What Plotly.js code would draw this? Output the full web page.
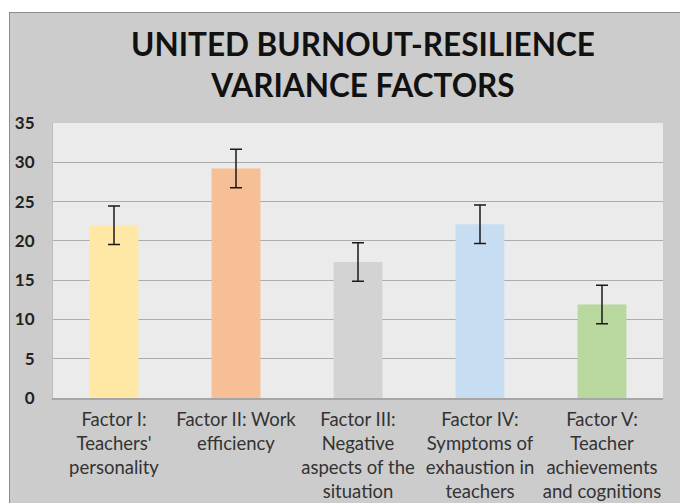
<!DOCTYPE html>
<html>
<head>
<meta charset="utf-8">
<script src="https://cdn.plot.ly/plotly-3.0.1.min.js"></script>
<style>
html, body { margin: 0; padding: 0; background: #ffffff; width: 680px; height: 503px; overflow: hidden; }
#chart { position: absolute; left: 9px; top: 12px; width: 671px; height: 491px; border-left: 1px solid #8c8c8c; border-top: 1px solid #8c8c8c; box-sizing: border-box; }
</style>
</head>
<body>
<div id="chart"></div>
<script>
const titleText = 'UNITED BURNOUT-RESILIENCE<br>VARIANCE FACTORS';
const categories = [
  "Factor I:<br>Teachers'<br>personality",
  "Factor II: Work<br>efficiency",
  "Factor III:<br>Negative<br>aspects of the<br>situation",
  "Factor IV:<br>Symptoms of<br>exhaustion in<br>teachers",
  "Factor V:<br>Teacher<br>achievements<br>and cognitions"
];
const values = [22.0, 29.2, 17.3, 22.1, 11.9];
const errors = [2.45, 2.45, 2.45, 2.45, 2.45];
const barColors = ["#FFE8A6", "#F7BF96", "#D3D3D3", "#C7DDF1", "#B8D89E"];
const yTicks = [0, 5, 10, 15, 20, 25, 30, 35];

const trace = {
  type: 'bar',
  x: categories,
  y: values,
  marker: { color: barColors, line: { width: 0 } },
  error_y: { type: 'data', array: errors, visible: true, color: '#1a1a1a', thickness: 1.5, width: 6 },
  hoverinfo: 'none'
};

const layout = {
  width: 670,
  height: 490,
  paper_bgcolor: '#CCCCCC',
  plot_bgcolor: '#EBEBEB',
  margin: { l: 43, r: 17, t: 110, b: 105, pad: 0 },
  bargap: 0.6,
  showlegend: false,
  annotations: [{
    text: titleText,
    xref: 'paper', yref: 'paper',
    x: 0.508, y: 1.212,
    xanchor: 'center', yanchor: 'middle',
    showarrow: false,
    font: { family: 'Lato, "Open Sans", sans-serif', size: 31.5, color: '#111111', weight: 'bold' }
  }],
  xaxis: {
    type: 'category',
    showgrid: false,
    showline: true, linecolor: '#A6A6A6', linewidth: 2,
    ticks: '',
    tickfont: { family: 'Lato, "Open Sans", sans-serif', size: 18.5, color: '#333333' },
    ticklabelstandoff: 4
  },
  yaxis: {
    range: [0, 35],
    tickvals: yTicks,
    ticktext: yTicks.map(String),
    showgrid: true, gridcolor: '#ADADAD', gridwidth: 1.2,
    zeroline: false,
    showline: true, linecolor: '#BDBDBD', linewidth: 1,
    ticks: '',
    tickfont: { family: 'Lato, "Open Sans", sans-serif', size: 17, color: '#222222', weight: 'bold' },
    ticklabelstandoff: 14
  }
};

Plotly.newPlot('chart', [trace], layout, { staticPlot: true, displayModeBar: false });
</script>
</body>
</html>
